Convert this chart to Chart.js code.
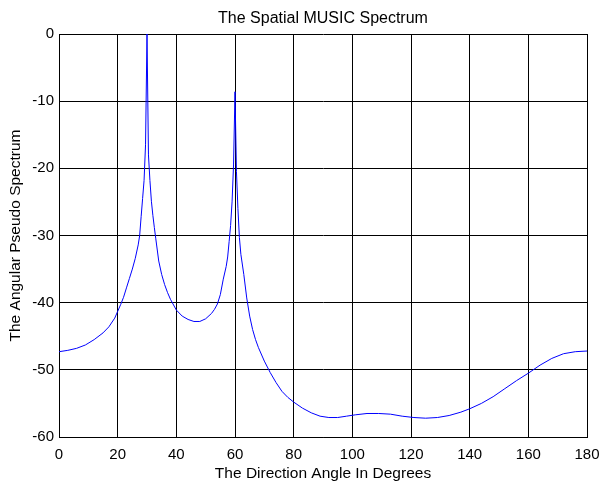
<!DOCTYPE html>
<html>
<head>
<meta charset="utf-8">
<script src="https://cdn.jsdelivr.net/npm/chart.js@4.4.0/dist/chart.umd.min.js"></script>
<style>
  html, body { margin: 0; padding: 0; background: #fff; }
  #wrap { width: 601px; height: 483px; position: relative; }
</style>
</head>
<body>
<div id="wrap"><canvas id="music"></canvas></div>
<script>
// Spatial MUSIC pseudo spectrum, sources at 30 and 60 degrees
const angles = [
  0, 3, 6, 9, 12, 15, 17, 19, 20, 21, 22, 23, 24, 25, 26, 27, 27.5, 28, 28.5, 29, 29.5,
  30, 30.5, 31, 31.5, 32, 32.5, 33, 34, 35, 36, 37, 38, 40, 42, 44, 46, 48, 50, 52, 53,
  54, 55, 56, 57, 57.5, 58, 58.5, 59, 59.5, 60, 60.5, 61, 61.5, 62, 63, 64, 65, 66, 67,
  68, 70, 72, 74, 76, 78, 80, 83, 86, 89, 92, 95, 98, 101, 105, 109, 113, 117, 121, 125,
  129, 133, 137, 140, 144, 148, 152, 156, 160, 164, 168, 172, 176, 180
];
const spectrumDb = [
  -47.3, -47.1, -46.8, -46.3, -45.5, -44.5, -43.6, -42.3, -41.3, -40.3, -39.2, -37.8, -36.4, -35.0, -33.4, -31.4, -30.0, -27.2, -24.5, -21.8, -16.5,
  0, -18.0, -21.8, -24.9, -27.0, -28.8, -30.5, -33.8, -35.8, -37.3, -38.5, -39.5, -41.1, -42.0, -42.5, -42.8, -42.8, -42.4, -41.6, -41.0,
  -40.2, -38.8, -36.5, -34.6, -33.2, -30.9, -28.5, -25.0, -19.5, -8.6, -20.5, -26.0, -30.3, -32.8, -35.8, -39.3, -42.0, -44.0, -45.5,
  -46.7, -48.7, -50.4, -51.9, -53.2, -54.1, -54.8, -55.7, -56.4, -56.9, -57.1, -57.1, -56.9, -56.7, -56.5, -56.5, -56.6, -56.9, -57.1, -57.2,
  -57.1, -56.8, -56.3, -55.8, -55.0, -54.0, -52.8, -51.6, -50.5, -49.3, -48.3, -47.6, -47.3, -47.2
];
const xTicks = [0, 20, 40, 60, 80, 100, 120, 140, 160, 180];
const yTicks = [0, -10, -20, -30, -40, -50, -60];

const FONT = 'Liberation Sans, Arial, sans-serif';

// title centred over the plot box
const plotTitle = {
  id: 'plotTitle',
  afterDraw(chart) {
    const { ctx, chartArea } = chart;
    ctx.save();
    ctx.fillStyle = '#000';
    ctx.font = '16px ' + FONT;
    ctx.textAlign = 'center';
    ctx.textBaseline = 'middle';
    ctx.fillText('The Spatial MUSIC Spectrum', (chartArea.left + chartArea.right) / 2, 18.5);
    ctx.restore();
  }
};

const points = angles.map((a, i) => ({ x: a, y: spectrumDb[i] }));

new Chart(document.getElementById('music'), {
  type: 'scatter',
  data: {
    datasets: [{
      data: points,
      showLine: true,
      borderColor: '#0000ff',
      borderWidth: 1,
      pointRadius: 0,
      tension: 0,
      fill: false
    }]
  },
  options: {
    responsive: true,
    maintainAspectRatio: false,
    animation: false,
    layout: { padding: { top: 34, right: 14, left: 0, bottom: 0 } },
    plugins: { legend: { display: false }, tooltip: { enabled: false } },
    scales: {
      x: {
        type: 'linear',
        min: 0,
        max: 180,
        afterFit: (s) => { s.height = 46; s.paddingLeft = 0; s.paddingRight = 0; },
        afterBuildTicks: (s) => { s.ticks = xTicks.map(v => ({ value: v })); },
        ticks: { color: '#000', font: { family: FONT, size: 15 }, padding: 8.5, maxRotation: 0 },
        grid: { color: '#000', lineWidth: 1, drawTicks: false },
        border: { color: '#000', width: 1 },
        title: {
          display: true,
          text: 'The Direction Angle In Degrees',
          color: '#000',
          font: { family: FONT, size: 15.5 },
          padding: { top: 0, bottom: 0 }
        }
      },
      y: {
        type: 'linear',
        min: -60,
        max: 0,
        afterFit: (s) => { s.width = 59; s.paddingTop = 0; s.paddingBottom = 0; },
        afterBuildTicks: (s) => { s.ticks = yTicks.map(v => ({ value: v })); },
        ticks: { color: '#000', font: { family: FONT, size: 15 }, padding: 5 },
        grid: { color: '#000', lineWidth: 1, drawTicks: false },
        border: { color: '#000', width: 1 },
        title: {
          display: true,
          text: 'The Angular Pseudo Spectrum',
          color: '#000',
          font: { family: FONT, size: 15.5 },
          padding: { top: 6, bottom: 0 }
        }
      }
    }
  },
  plugins: [plotTitle]
});
</script>
</body>
</html>
